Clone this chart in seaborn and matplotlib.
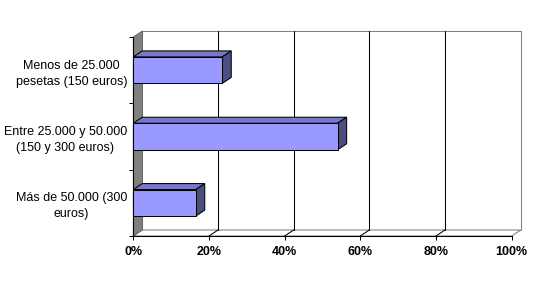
import matplotlib
matplotlib.use('Agg')
import matplotlib.pyplot as plt
import seaborn as sns
import pandas as pd
from matplotlib.patches import Polygon
from matplotlib.lines import Line2D

categories = ["Menos de 25.000\npesetas (150 euros)",
              "Entre 25.000 y 50.000\n(150 y 300 euros)",
              "Más de 50.000 (300\neuros)"]
values = [23.5, 54.0, 16.5]
xticks = [0, 20, 40, 60, 80, 100]
xticklabels = ["0%", "20%", "40%", "60%", "80%", "100%"]

sns.set_theme(style='white')
plt.rcParams['font.family'] = ['Liberation Sans', 'DejaVu Sans']

W, H = 540, 290
fig = plt.figure(figsize=(W / 100, H / 100), dpi=100)
fig.patch.set_facecolor('white')
ax = fig.add_axes([133.3 / W, 54 / H, 378.4 / W, 199 / H])
ax.set_facecolor('none')

df = pd.DataFrame({'cat': categories, 'pct': values})
sns.barplot(data=df, x='pct', y='cat', orient='h', color='#9999FF',
            saturation=1, width=0.4, edgecolor='black', linewidth=0.75, ax=ax)
ax.set_xlim(0, 100)
ax.set_ylim(2.5, -0.5)

DX, DY = 9.0, 6.0  # depth offset in pixels


def back(x, y):
    p = ax.transData.transform((x, y))
    return tuple(ax.transData.inverted().transform((p[0] + DX, p[1] + DY)))


bars = list(ax.patches)

ymin, ymax = 2.5, -0.5  # bottom, top (inverted)
# back wall
ax.add_patch(Polygon([back(0, ymin), back(100, ymin), back(100, ymax), back(0, ymax)],
                     closed=True, facecolor='white', edgecolor='#808080', lw=0.75,
                     zorder=0.5, clip_on=False))
# floor
ax.add_patch(Polygon([(0, ymin), (100, ymin), back(100, ymin), back(0, ymin)],
                     closed=True, facecolor='white', edgecolor='#808080', lw=0.75,
                     zorder=0.6, clip_on=False))
# gridlines on back wall and floor
for t in xticks[1:-1]:
    b0 = back(t, ymin)
    b1 = back(t, ymax)
    ax.add_line(Line2D([b0[0], b1[0]], [b0[1], b1[1]], color='black', lw=0.75,
                       zorder=1, clip_on=False))
    ax.add_line(Line2D([t, b0[0]], [ymin, b0[1]], color='black', lw=0.75,
                       zorder=1, clip_on=False))
# left wall
ax.add_patch(Polygon([(0, ymin), (0, ymax), back(0, ymax), back(0, ymin)],
                     closed=True, facecolor='#808080', edgecolor='#606060', lw=0.6,
                     zorder=2, clip_on=False))

# 3D faces of bars
for p in bars:
    x0, y0, w, h = p.get_x(), p.get_y(), p.get_width(), p.get_height()
    if w <= 0:
        continue
    ya, yb = y0, y0 + h
    if ax.transData.transform((0, ya))[1] > ax.transData.transform((0, yb))[1]:
        yt, ybt = ya, yb
    else:
        yt, ybt = yb, ya
    x1 = x0 + w
    ax.add_patch(Polygon([(x0, yt), (x1, yt), back(x1, yt), back(x0, yt)], closed=True,
                         facecolor='#7777CC', edgecolor='black', lw=0.75, zorder=4.8,
                         clip_on=False))
    ax.add_patch(Polygon([(x1, yt), (x1, ybt), back(x1, ybt), back(x1, yt)], closed=True,
                         facecolor='#4D4D80', edgecolor='black', lw=0.75, zorder=4.8,
                         clip_on=False))
    p.set_zorder(5)
    p.set_clip_on(False)

# axes styling
for s in ['top', 'right']:
    ax.spines[s].set_visible(False)
for s in ['left', 'bottom']:
    ax.spines[s].set_color('black')
    ax.spines[s].set_linewidth(0.75)
    ax.spines[s].set_zorder(6)

ax.set_xticks(xticks, labels=xticklabels, fontweight='bold', fontsize=9)
ax.tick_params(axis='x', which='major', direction='out', length=3, width=0.75,
               color='black', pad=4, labelcolor='black', bottom=True)
ax.set_yticks([0, 1, 2], labels=categories, fontsize=9, linespacing=1.45,
              ma='center')
ax.set_yticks([-0.5, 0.5, 1.5, 2.5], minor=True)
ax.tick_params(axis='y', which='major', length=0, pad=4.5, labelcolor='black', left=False)
ax.tick_params(axis='y', which='minor', direction='out', length=3, width=0.75,
               color='black', left=True)
ax.set_xlabel('')
ax.set_ylabel('')

fig.savefig('out.png', dpi=100, facecolor='white')
